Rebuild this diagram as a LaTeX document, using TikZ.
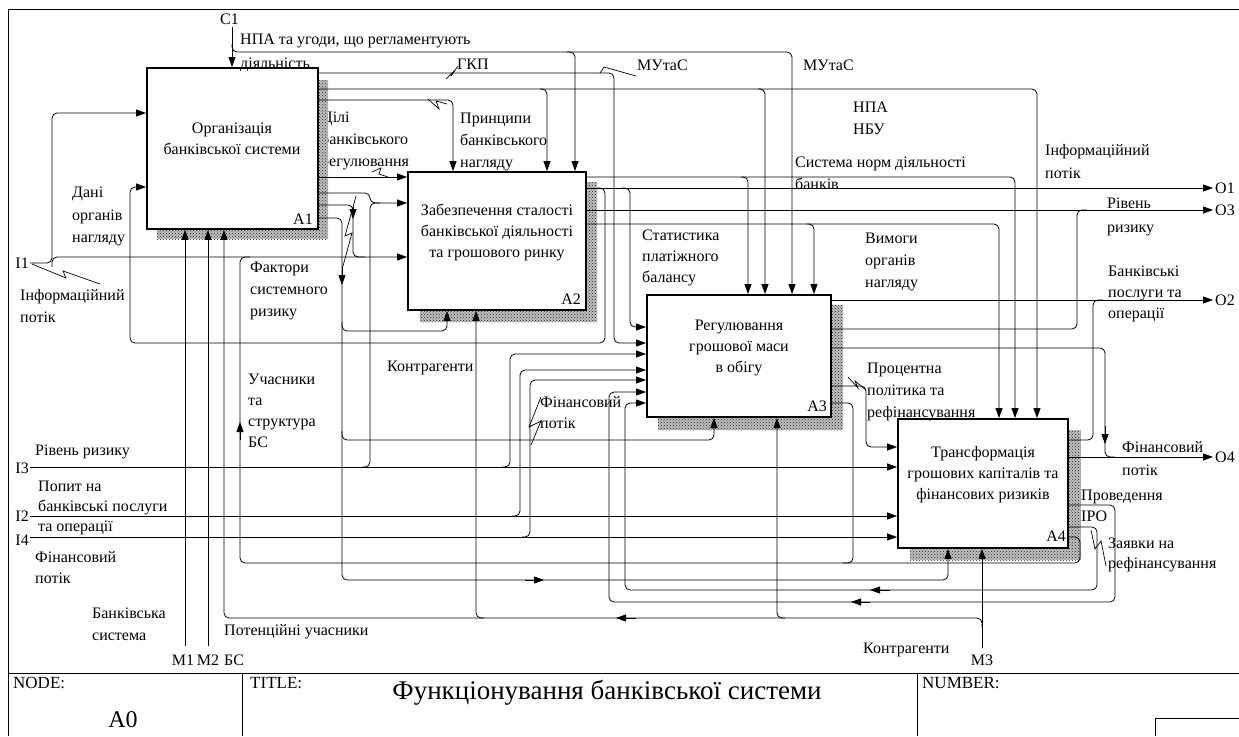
\documentclass[tikz,border=0pt]{standalone}
\usepackage{fontspec}
\setmainfont{Liberation Serif}
\usetikzlibrary{arrows.meta,positioning,patterns}

\newcommand\lblsize{\fontsize{16}{22}\selectfont}
\newcommand\boxsize{\fontsize{16}{21}\selectfont}
\newcommand\bigsize{\fontsize{24}{28}\selectfont}
\newcommand\titlesize{\fontsize{27}{30}\selectfont}

\tikzset{
  fbox/.style={draw, line width=1.8pt, fill=white, inner sep=0pt},
  hatch/.style={pattern=crosshatch dots, pattern color=black!85},
  conn/.style={line width=0.8pt, rounded corners=5pt},
  arr/.style={conn, -{Triangle[length=10pt,width=7pt]}},
  lbl/.style={inner sep=0pt, anchor=base west, align=left, font=\lblsize},
  btext/.style={inner sep=0pt, anchor=base, align=center, font=\boxsize},
  boxid/.style={inner sep=0pt, anchor=base east, font=\lblsize},
  zig/.style={line width=0.7pt},
}

\begin{document}
\begin{tikzpicture}[x=1pt,y=-1pt]
\useasboundingbox (0,0) rectangle (1239,736);

% frame and title block
\draw[line width=0.8pt] (1239,9) -- (8,9) -- (8,736);
\draw[line width=0.8pt] (8,673) -- (1239,673);
\draw[line width=0.8pt] (242,673) -- (242,736);
\draw[line width=0.8pt] (917,673) -- (917,736);
\draw[line width=0.8pt] (1155,736) -- (1155,718) -- (1239,718);
\node[lbl, font=\fontsize{17}{20}\selectfont] (tnode) at (13,688) {NODE:};
\node[inner sep=0pt, anchor=base, font=\bigsize] (tnum) at (123,727) {A0};
\node[lbl, font=\fontsize{17}{20}\selectfont] (ttitle) at (250,688) {TITLE:};
\node[inner sep=0pt, anchor=base, font=\titlesize] (tname) at (607,699) {Функціонування банківської системи};
\node[lbl, font=\fontsize{17}{20}\selectfont] (tnumber) at (922,688) {NUMBER:};

% labels partly hidden by shadows
\node[lbl] (lCili) at (321,166) {Цілі\\банківського\\регулювання};
\node[lbl] (lIPO) at (1081,521) {Проведення\\[-1pt]ІРО};

% shadows
\foreach \sx/\sy/\ex/\ey in {157/80/328/239, 420/182/597/322, 658/305/843/430, 910/430/1081/560} {
  \fill[gray!50] (\sx,\sy) rectangle (\ex,\ey);
  \fill[hatch] (\sx,\sy) rectangle (\ex,\ey);
}

% activity boxes
\node[fbox, minimum width=171pt, minimum height=161pt] (A1) at (232.5,148.5) {};
\node[fbox, minimum width=178pt, minimum height=138pt] (A2) at (497,241) {};
\node[fbox, minimum width=184pt, minimum height=122pt] (A3) at (739,356) {};
\node[fbox, minimum width=170pt, minimum height=129pt] (A4) at (983,483.5) {};
\node[btext] (t1) at (232,154) {Організація\\банківської системи};
\node[btext] (t2) at (497,257) {Забезпечення сталості\\банківської діяльності\\та грошового ринку};
\node[btext] (t3) at (739,372) {Регулювання\\грошової маси\\в обігу};
\node[btext] (t4) at (983,499) {Трансформація\\грошових капіталів та\\фінансових ризиків};
\node[boxid] (n1) at (313,224) {A1};
\node[boxid] (n2) at (581,304) {A2};
\node[boxid] (n3) at (827,411) {A3};
\node[boxid] (n4) at (1066,541) {A4};

% ICOM ends
\coordinate (c1) at (232,27);
\coordinate (i1) at (30,263);
\coordinate (i3) at (30,467);
\coordinate (i2) at (30,516);
\coordinate (i4) at (30,537);
\coordinate (o1) at (1213,188);
\coordinate (o3) at (1213,210);
\coordinate (o2) at (1213,300);
\coordinate (o4) at (1213,457);
\coordinate (m1) at (185,646);
\coordinate (m2) at (208,646);
\coordinate (m3) at (982,648);

% control C1
\draw[arr] (c1) -- (A1.north -| c1);
\draw[arr] (232,44) -- (232,52) -- (575,52) -- (A2.north -| 575,0);
\draw[arr] (567,52) -- (792,52) -- (A3.north -| 792,0);

% outputs of A1
\draw[arr] (A1.east |- 0,73) -- (614,73) -- (614,343) -- (A3.west |- 0,343);
\draw[arr] (A1.east |- 0,89) -- (547,89) -- (A2.north -| 547,0);
\draw[arr] (540,89) -- (765,89) -- (A3.north -| 765,0);
\draw[arr] (758,89) -- (1037,89) -- (A4.north -| 1037,0);
\draw[arr] (A1.east |- 0,100) -- (453,100) -- (A2.north -| 453,0);
\draw[arr] (A1.east |- 0,177) -- (A2.west |- 0,177);
\draw[conn] (A1.east |- 0,193) -- (370,193) -- (370,203) -- (380,203);
\draw[conn] (A1.east |- 0,205) -- (353,205) -- (353,257) -- (365,257);
\draw[arr] (353,207) -- (353,219);
\draw[arr] (A1.east |- 0,218) -- (342,218) -- (342,580) -- (948,580) -- (A4.south -| 948,0);
\draw[arr] (342,322) -- (342,331) -- (447,331) -- (A2.south -| 447,0);
\draw[arr] (342,431) -- (342,440) -- (714,440) -- (A3.south -| 714,0);
\draw[arr] (342,266) -- (342,285);
\draw[arr] (525,580) -- (544,580);

% inputs I1..I4
\draw[arr] (i1) -- (52,263) -- (52,113) -- (A1.west |- 0,113);
\draw[arr] (52,267) -- (52,257) -- (A2.west |- 0,257);
\draw[arr] (i3) -- (A4.west |- i3);
\draw[arr] (362,467) -- (370,467) -- (370,203) -- (A2.west |- 0,203);
\draw[arr] (502,467) -- (510,467) -- (510,354) -- (A3.west |- 0,354);
\draw[arr] (i2) -- (A4.west |- i2);
\draw[arr] (512,516) -- (520,516) -- (520,370) -- (A3.west |- 0,370);
\draw[arr] (i4) -- (A4.west |- i4);
\draw[arr] (522,537) -- (530,537) -- (530,380) -- (A3.west |- 0,380);

% outputs of A2
\draw[arr] (A2.east |- o1) -- (o1);
\draw[arr] (597,188) -- (605,188) -- (605,343) -- (130,343) -- (130,187) -- (A1.west |- 0,187);
\draw[arr] (622,188) -- (630,188) -- (630,327) -- (A3.west |- 0,327);
\draw[arr] (A2.east |- 0,177) -- (748,177) -- (A3.north -| 748,0);
\draw[arr] (741,177) -- (1015,177) -- (A4.north -| 1015,0);
\draw[arr] (A2.east |- o3) -- (o3);
\draw[arr] (A2.east |- 0,224) -- (814,224) -- (A3.north -| 814,0);
\draw[arr] (807,224) -- (999,224) -- (A4.north -| 999,0);

% outputs of A3
\draw[arr] (A3.east |- o2) -- (o2);
\draw[conn] (A3.east |- 0,329) -- (1077,329) -- (1077,210) -- (1087,210);
\draw[conn] (A3.east |- 0,348) -- (1105,348) -- (1105,457) -- (1115,457);
\draw[arr] (1105,426) -- (1105,444);
\draw[arr] (A3.east |- 0,386) -- (866,386) -- (866,447) -- (A4.west |- 0,447);
\draw[conn] (A3.east |- 0,403) -- (853,403) -- (853,563) -- (843,563);

% outputs of A4
\draw[conn] (A4.east |- 0,440) -- (1093,440) -- (1093,300) -- (1103,300);
\draw[arr] (A4.east |- o4) -- (o4);
\draw[arr] (A4.east |- 0,505) -- (1115,505) -- (1115,602) -- (609,602) -- (609,392) -- (A3.west |- 0,392);
\draw[arr] (870,602) -- (851,602);
\draw[arr] (A4.east |- 0,527) -- (1097,527) -- (1097,590) -- (625,590) -- (625,403) -- (A3.west |- 0,403);
\draw[arr] (890,590) -- (870,590);
\draw[conn] (A4.east |- 0,537) -- (1080,537) -- (1080,563) -- (240,563) -- (240,257) -- (250,257);
\draw[arr] (240,440) -- (240,422);

% mechanisms
\draw[arr] (m1) -- (A1.south -| m1);
\draw[arr] (m2) -- (A1.south -| m2);
\draw[arr] (m3) -- (A4.south -| m3);
\draw[arr] (982,627) -- (982,618) -- (224,618) -- (A1.south -| 224,0);
\draw[arr] (785,618) -- (777,618) -- (A3.south -| 777,0);
\draw[arr] (484,618) -- (476,618) -- (A2.south -| 476,0);
\draw[arr] (636,618) -- (616,618);

% label squiggles
\draw[zig] (446,79) -- (454,71) -- (451,76) -- (458,66);
\draw[zig] (600,73) -- (604,67) -- (636,76);
\draw[zig] (428,99) -- (439,109) -- (436,101) -- (447,104);
\draw[zig] (372,172) -- (381,168) -- (379,174) -- (388,177);
\draw[zig] (356,196) -- (345,236) -- (352,233) -- (343,266);
\draw[zig] (32,264) -- (66,278) -- (63,271) -- (100,284);
\draw[zig] (541,397) -- (529,427) -- (541,421) -- (531,445);
\draw[zig] (848,377) -- (858,388) -- (855,381) -- (866,390);
\draw[zig] (1091,530) -- (1095,549) -- (1101,541) -- (1106,566);

% arrow labels
\node[lbl] (lC1) at (220,24) {C1};
\node[lbl] (lNPA) at (240,68) {НПА та угоди, що регламентують\\[2pt]діяльність};
\node[lbl] (lGKP) at (457,69) {ГКП};
\node[lbl] (lMUS1) at (637,70) {МУтаС};
\node[lbl] (lMUS2) at (803,70) {МУтаС};
\node[lbl] (lNBU) at (853,134) {НПА\\НБУ};
\node[lbl] (lPrinc) at (460,167) {Принципи\\банківського\\нагляду};
\node[lbl] (lSys) at (795,189) {Система норм діяльності\\банків};
\node[lbl] (lStat) at (642,282) {Статистика\\[-1pt]платіжного\\[-1pt]балансу};
\node[lbl] (lVym) at (865,287) {Вимоги\\органів\\нагляду};
\node[lbl] (lInfoR) at (1045,178) {Інформаційний\\[1pt]потік};
\node[lbl] (lRiskR) at (1107,232) {Рівень\\[2pt]ризику};
\node[lbl] (lServ) at (1108,318) {Банківські\\[-1pt]послуги та\\[-1pt]операції};
\node[lbl] (lFinR) at (1122,475) {Фінансовий\\[1pt]потік};
\node[lbl] (lPerc) at (867,417) {Процентна\\політика та\\рефінансування};
\node[lbl] (lZay) at (1108,568) {Заявки на\\[-2pt]рефінансування};
\node[lbl] (lDani) at (72,242) {Дані\\[1pt]органів\\нагляду};
\node[lbl] (lInfoL) at (20,322) {Інформаційний\\потік};
\node[lbl] (lFakt) at (250,316) {Фактори\\системного\\ризику};
\node[lbl] (lUch) at (248,447) {Учасники\\[-1pt]та\\[-1pt]структура\\[-1pt]БС};
\node[lbl] (lKon1) at (387,371) {Контрагенти};
\node[lbl] (lFinM) at (540,428) {Фінансовий\\[-1pt]потік};
\node[lbl] (lRiskL) at (35,455) {Рівень ризику};
\node[lbl] (lPop) at (38,531) {Попит на\\[-2pt]банківські послуги\\[-2pt]та операції};
\node[lbl] (lFinL) at (35,583) {Фінансовий\\[-1pt]потік};
\node[lbl] (lBS) at (92,640) {Банківська\\система};
\node[lbl] (lPot) at (224,665) {Потенційні учасники\\[8pt]БС};
\node[lbl] (lKon2) at (863,653) {Контрагенти};
\node[lbl, anchor=base east] (lI1) at (29,268) {I1};
\node[lbl, anchor=base east] (lI3) at (29,473) {I3};
\node[lbl, anchor=base east] (lI2) at (29,521) {I2};
\node[lbl, anchor=base east] (lI4) at (29,545) {I4};
\node[lbl] (lO1) at (1215,193) {O1};
\node[lbl] (lO3) at (1215,215) {O3};
\node[lbl] (lO2) at (1215,305) {O2};
\node[lbl] (lO4) at (1215,462) {O4};
\node[lbl, anchor=base] (lM1) at (183,665) {M1};
\node[lbl, anchor=base] (lM2) at (208,665) {M2};
\node[lbl, anchor=base] (lM3) at (982,665) {M3};
\end{tikzpicture}
\end{document}
